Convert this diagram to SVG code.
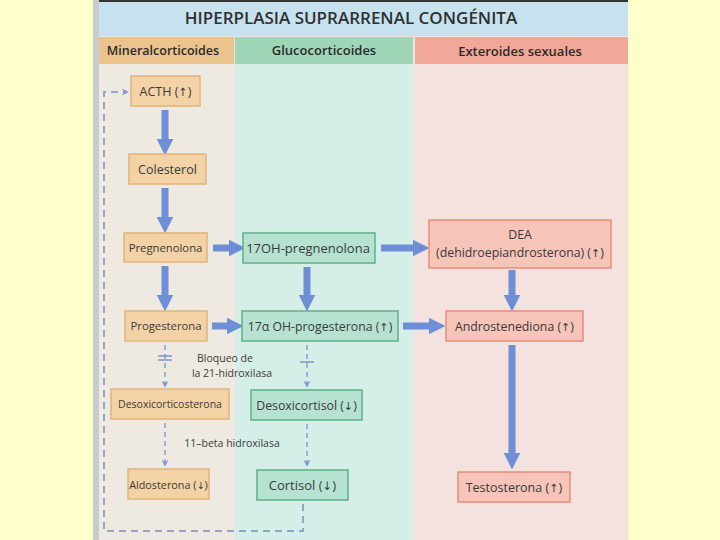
<svg xmlns="http://www.w3.org/2000/svg" width="720" height="540" viewBox="0 0 720 540">
<style>
text{font-family:"Open Sans","Liberation Sans",sans-serif;fill:#3a3a3a;}
.t{font-size:12.3px;text-anchor:middle;}
.ar{font-family:"DejaVu Sans",sans-serif;font-size:0.9em;}
.h{font-size:13px;font-weight:600;text-anchor:middle;fill:#2a2a2a;}
.o{fill:#F3D2A6;stroke:#E0B47C;stroke-width:1.5;}
.g{fill:#B6E2D2;stroke:#5FAE86;stroke-width:1.5;}
.r{fill:#F6C4B8;stroke:#E98C78;stroke-width:1.5;}
.big{stroke:#6E8FD6;stroke-width:7;fill:none;}
.thin{stroke:#8A9ED4;stroke-width:1.5;fill:none;stroke-dasharray:5 4;}
.fb{stroke:#7890BC;stroke-width:1.5;fill:none;stroke-dasharray:7 5;}
</style>
<defs>
<marker id="ah" viewBox="0 0 10 10" refX="2" refY="5" markerWidth="2.4" markerHeight="2.4" orient="auto" markerUnits="strokeWidth">
<path d="M0,0 L10,5 L0,10 Z" fill="#6E8FD6"/>
</marker>
<marker id="as" viewBox="0 0 10 10" refX="6" refY="5" markerWidth="7" markerHeight="7" orient="auto" markerUnits="userSpaceOnUse">
<path d="M0,0 L10,5 L0,10 L3,5 Z" fill="#7E96D2"/>
</marker>
</defs>
<rect x="0" y="0" width="720" height="540" fill="#FFFFCC"/>
<rect x="93" y="0" width="535" height="540" fill="#ECE8E0"/>
<rect x="93" y="0" width="6" height="540" fill="#C9CCCC"/>
<rect x="99" y="0" width="529" height="36" fill="#C6E2EE"/>
<rect x="99" y="0" width="529" height="2" fill="#333"/>
<rect x="99" y="37" width="135" height="27" fill="#EAC48C"/>
<rect x="235" y="37" width="178" height="27" fill="#9FD6B8"/>
<rect x="415" y="37" width="213" height="27" fill="#F2A898"/>
<rect x="99" y="64" width="136" height="476" fill="#EEEAE2"/>
<rect x="235" y="64" width="178" height="476" fill="#D6EEE8"/>
<rect x="413" y="64" width="215" height="476" fill="#F4E2DE"/>
<text x="351" y="24" style="font-size:17px;font-weight:600;text-anchor:middle;fill:#2f2f2f">HIPERPLASIA SUPRARRENAL CONGÉNITA</text>
<text class="h" x="163" y="55" style="font-size:12.5px">Mineralcorticoides</text>
<text class="h" x="324" y="55">Glucocorticoides</text>
<text class="h" x="520" y="56">Exteroides sexuales</text>

<g id="connectors">
<line class="big" x1="165" y1="110" x2="165" y2="142" marker-end="url(#ah)"/>
<line class="big" x1="165" y1="188" x2="165" y2="220" marker-end="url(#ah)"/>
<line class="big" x1="165" y1="266" x2="165" y2="298" marker-end="url(#ah)"/>
<line class="big" x1="213" y1="248" x2="232" y2="248" marker-end="url(#ah)"/>
<line class="big" x1="381" y1="248" x2="416" y2="248" marker-end="url(#ah)"/>
<line class="big" x1="307" y1="267" x2="307" y2="298" marker-end="url(#ah)"/>
<line class="big" x1="512" y1="270" x2="512" y2="298" marker-end="url(#ah)"/>
<line class="big" x1="212" y1="326" x2="230" y2="326" marker-end="url(#ah)"/>
<line class="big" x1="403" y1="326" x2="432" y2="326" marker-end="url(#ah)"/>
<line class="big" x1="512" y1="345" x2="512" y2="456" marker-end="url(#ah)"/>
<line class="thin" x1="165" y1="345" x2="165" y2="385" marker-end="url(#as)"/>
<line x1="158" y1="356" x2="172" y2="356" stroke="#6E86C0" stroke-width="1.3"/>
<line x1="158" y1="360" x2="172" y2="360" stroke="#6E86C0" stroke-width="1.3"/>
<line class="thin" x1="307" y1="345" x2="307" y2="385" marker-end="url(#as)"/>
<line x1="300" y1="362" x2="314" y2="362" stroke="#6E86C0" stroke-width="1.3"/>
<line class="thin" x1="165" y1="423" x2="165" y2="464" marker-end="url(#as)"/>
<line class="thin" x1="307" y1="424" x2="307" y2="464" marker-end="url(#as)"/>
<polyline class="fb" points="303,504 303,531 104,531 104,92 126,92" marker-end="url(#as)"/>
</g>

<text class="t" x="225" y="362" style="font-size:10.5px">Bloqueo de</text>
<text class="t" x="232" y="377" style="font-size:10.5px">la 21-hidroxilasa</text>
<text class="t" x="232" y="447" style="font-size:10.5px">11–beta hidroxilasa</text>

<g id="n-acth"><rect class="o" x="131" y="76" width="69" height="30"/><text class="t" x="165.5" y="96" style="font-size:12.5px">ACTH (<tspan class="ar">↑</tspan>)</text></g>
<g id="n-colesterol"><rect class="o" x="129" y="154" width="77" height="30"/><text class="t" x="167.5" y="174" style="font-size:12.5px">Colesterol</text></g>
<g id="n-pregnenolona"><rect class="o" x="124" y="233" width="83" height="29"/><text class="t" x="165.5" y="252" style="font-size:11.3px">Pregnenolona</text></g>
<g id="n-17ohpreg"><rect class="g" x="243" y="233" width="132" height="30"/><text class="t" x="308" y="253" style="font-size:13px">17OH-pregnenolona</text></g>
<g id="n-dea"><rect class="r" x="429" y="220" width="182" height="48"/><text class="t" x="520" y="239">DEA</text><text class="t" x="520" y="257">(dehidroepiandrosterona) (<tspan class="ar">↑</tspan>)</text></g>
<g id="n-progesterona"><rect class="o" x="125" y="311" width="82" height="30"/><text class="t" x="166" y="330" style="font-size:11.3px">Progesterona</text></g>
<g id="n-17ohprog"><rect class="g" x="242" y="311" width="156" height="30"/><text class="t" x="320" y="331">17α OH-progesterona (<tspan class="ar">↑</tspan>)</text></g>
<g id="n-andro"><rect class="r" x="446" y="311" width="137" height="30"/><text class="t" x="514.5" y="331">Androstenediona (<tspan class="ar">↑</tspan>)</text></g>
<g id="n-doc"><rect class="o" x="111" y="389" width="118" height="30"/><text class="t" x="170" y="408" style="font-size:10.5px">Desoxicorticosterona</text></g>
<g id="n-desoxicortisol"><rect class="g" x="251" y="390" width="111" height="30"/><text class="t" x="306.5" y="410">Desoxicortisol (<tspan class="ar">↓</tspan>)</text></g>
<g id="n-aldosterona"><rect class="o" x="128" y="469" width="81" height="30"/><text class="t" x="168.5" y="489" style="font-size:10.8px">Aldosterona (<tspan class="ar">↓</tspan>)</text></g>
<g id="n-cortisol"><rect class="g" x="257" y="470" width="91" height="30"/><text class="t" x="302.5" y="490" style="font-size:13px">Cortisol (<tspan class="ar">↓</tspan>)</text></g>
<g id="n-testosterona"><rect class="r" x="458" y="472" width="112" height="30"/><text class="t" x="514" y="492" style="font-size:12.5px">Testosterona (<tspan class="ar">↑</tspan>)</text></g>
</svg>
